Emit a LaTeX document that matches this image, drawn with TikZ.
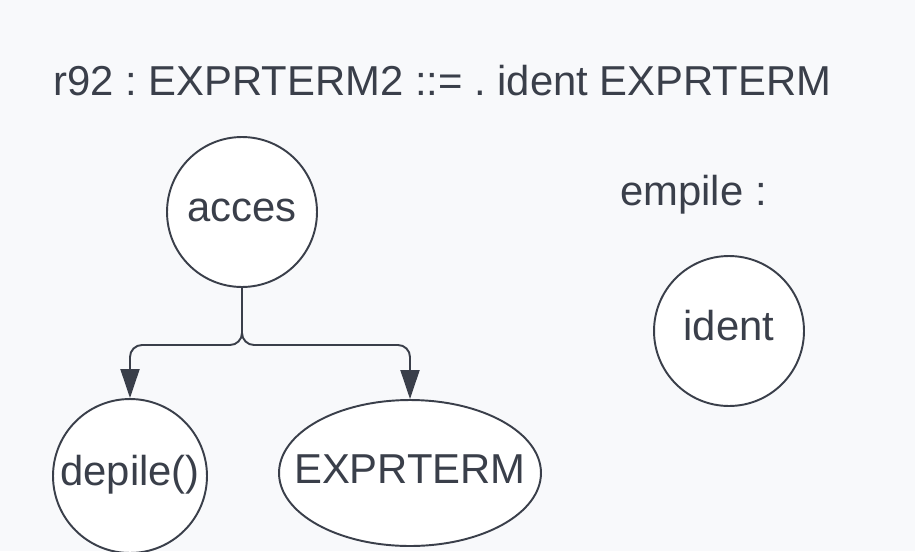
\documentclass[tikz,border=0pt]{standalone}
\usepackage{fontspec}
\setmainfont{Liberation Sans}
\usepackage{xcolor}
\usetikzlibrary{arrows.meta,shapes.geometric}
\definecolor{paper}{HTML}{F8F9FB}
\definecolor{ink}{HTML}{3A3F4A}
\frenchspacing
\tikzset{
	label/.style={
			text=ink, inner sep=0pt,
			font=\fontsize{23.8}{28}\selectfont
		},
	state/.style={
			label, draw=ink, fill=white, line width=1.1pt, circle,
			text height=0.5cm, text depth=0.14cm, minimum size=#1
		},
	oval/.style={
			label, draw=ink, fill=white, line width=1.1pt, ellipse,
			text height=0.5cm, text depth=0.08cm, inner xsep=-0.6cm,
			minimum width=5.24cm, minimum height=2.92cm
		},
	link/.style={
			draw=ink, line width=1.1pt, rounded corners=0.24cm,
			-{Triangle[length=0.58cm, width=0.38cm]}
		}
}

\begin{document}
\begin{tikzpicture}[x=0.02cm, y=-0.02cm]
		\fill [paper] (0,0) rectangle (915,551);
		\useasboundingbox (0,0) rectangle (915,551);
		\node [label, anchor=base west] (rule) at (53,95) {r92 : EXPRTERM2 ::= . ident EXPRTERM};
		\node [label, anchor=base west] (stack) at (620,205) {empile :};
		\node [state=3.0cm] (acces) at (242,212) {acces};
		\node [state=3.0cm] (ident) at (729,331) {ident};
		\node [state=3.08cm] (depile) at (130,476) {depile()};
		\node [oval] (expr) at (410,473) {EXPRTERM};
		\coordinate (fork) at (242,345);
		\draw [link] (acces.south) -- (fork) -| (depile.north);
		\draw [link] (acces.south) -- (fork) -| (expr.north);
	\end{tikzpicture}
\end{document}
